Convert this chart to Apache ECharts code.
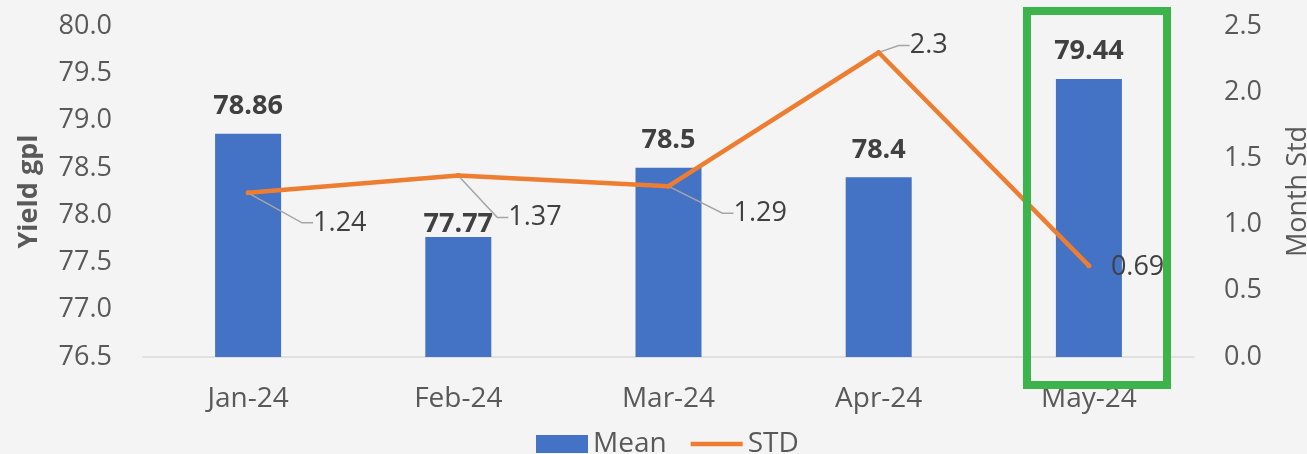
<!DOCTYPE html>
<html>
<head>
<meta charset="utf-8">
<script src="https://cdn.jsdelivr.net/npm/echarts@6/dist/echarts.min.js"></script>
<style>
html,body{margin:0;padding:0;background:#f4f4f4;overflow:hidden;width:1307px;height:454px;}
#chart{width:1307px;height:454px;}
</style>
</head>
<body>
<div id="chart"></div>
<script>
// ---- data ----
var categories = ['Jan-24', 'Feb-24', 'Mar-24', 'Apr-24', 'May-24'];
var meanValues = [78.86, 77.77, 78.5, 78.4, 79.44];
var stdValues = [1.24, 1.37, 1.29, 2.3, 0.69];
var leftTicks = ['76.5', '77.0', '77.5', '78.0', '78.5', '79.0', '79.5', '80.0'];
var rightTicks = ['0.0', '0.5', '1.0', '1.5', '2.0', '2.5'];

// ---- style (label placement, not data) ----
var stdLabelOffsets = [[65, 30], [50, 42], [65, 27], [31, -7], [22, 2]];
var stdLeaderShown = [true, true, true, true, false];
var meanLabelShift = [0, 15, 0, 0, 0];

var FONT = '"Open Sans", sans-serif';
var chart = echarts.init(document.getElementById('chart'), null, { width: 1307, height: 454 });

var barData = meanValues.map(function (v, i) {
  return { value: v, label: { offset: [0, meanLabelShift[i]] } };
});
var lineData = stdValues.map(function (v, i) {
  return { value: v, labelLine: { show: stdLeaderShown[i] } };
});

chart.setOption({
  backgroundColor: '#f4f4f4',
  animation: false,
  textStyle: { fontFamily: FONT },
  grid: { left: 143, right: 113, top: 26, bottom: 97, containLabel: false, outerBoundsMode: 'none' },
  legend: {
    bottom: -9,
    left: 531,
    itemWidth: 52,
    itemHeight: 18,
    itemGap: 24,
    textStyle: { fontSize: 28, color: '#595959', fontFamily: FONT },
    data: [
      { name: 'Mean', icon: 'rect' },
      { name: 'STD', icon: 'path://M0,0 L52,0 L52,4.5 L0,4.5 Z' }
    ]
  },
  xAxis: {
    type: 'category',
    data: categories,
    axisTick: { show: false },
    axisLine: { lineStyle: { color: '#D9D9D9', width: 1.5 } },
    axisLabel: { color: '#595959', fontSize: 28, margin: 28, fontFamily: FONT }
  },
  yAxis: [
    {
      type: 'value',
      min: 76.5, max: 80, interval: 0.5,
      name: 'Yield gpl',
      nameLocation: 'middle',
      nameGap: 100,
      nameTextStyle: { fontSize: 27, fontWeight: 'bold', color: '#595959', fontFamily: FONT },
      splitLine: { show: false },
      axisLine: { show: false },
      axisTick: { show: false },
      axisLabel: {
        color: '#595959', fontSize: 27, margin: 31, fontFamily: FONT,
        formatter: function (v) { return leftTicks[Math.round((v - 76.5) / 0.5)]; }
      }
    },
    {
      type: 'value',
      min: 0, max: 2.5, interval: 0.5,
      name: 'Month Std',
      nameLocation: 'middle',
      nameGap: 91,
      nameTextStyle: { fontSize: 27, color: '#595959', fontFamily: FONT },
      splitLine: { show: false },
      axisLine: { show: false },
      axisTick: { show: false },
      axisLabel: {
        color: '#595959', fontSize: 27, margin: 30, fontFamily: FONT,
        formatter: function (v) { return rightTicks[Math.round(v / 0.5)]; }
      }
    }
  ],
  series: [
    {
      name: 'Mean',
      type: 'bar',
      data: barData,
      barWidth: 66,
      itemStyle: { color: '#4472C4' },
      label: {
        show: true, position: 'top', distance: 14,
        fontSize: 27, fontWeight: 'bold', color: '#404040', fontFamily: FONT
      },
      z: 2
    },
    {
      name: 'STD',
      type: 'line',
      yAxisIndex: 1,
      data: lineData,
      symbol: 'circle',
      symbolSize: 5,
      itemStyle: { color: '#ED7D31' },
      lineStyle: { color: '#ED7D31', width: 4.5, cap: 'round', join: 'round' },
      label: {
        show: true, fontSize: 27, color: '#404040', fontFamily: FONT
      },
      labelLine: {
        show: true, length2: 11,
        lineStyle: { color: '#A5A5A5', width: 1.5 }
      },
      labelLayout: function (p) {
        var o = stdLabelOffsets[p.dataIndex];
        var cx = p.rect.x + p.rect.width / 2;
        var cy = p.rect.y + p.rect.height / 2;
        return { x: cx + o[0], y: cy + o[1], align: 'left', verticalAlign: 'middle' };
      },
      z: 3
    }
  ],
  graphic: [
    {
      type: 'rect',
      z: 100,
      shape: { x: 1027, y: 11, width: 140, height: 374 },
      style: { fill: 'none', stroke: '#3CB44B', lineWidth: 8 }
    }
  ]
});
</script>
</body>
</html>
